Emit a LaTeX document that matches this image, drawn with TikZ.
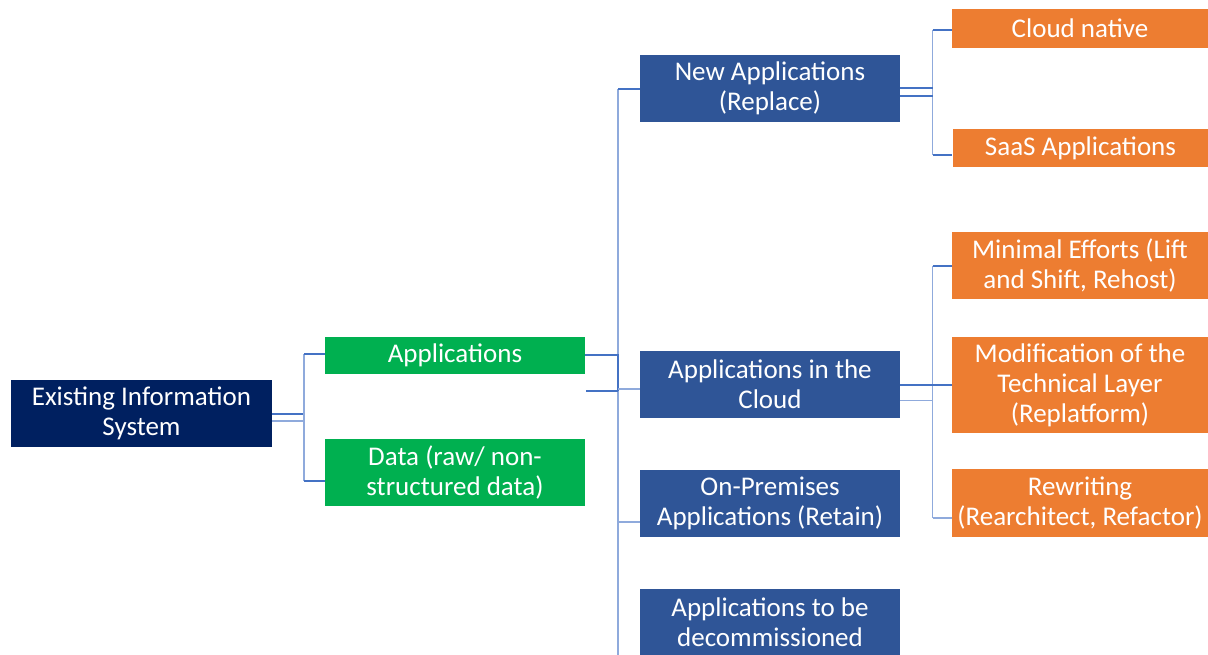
\documentclass[tikz,border=0pt]{standalone}
\usepackage{fontspec}
\setmainfont{Carlito}
\usetikzlibrary{calc}
\definecolor{navy}{HTML}{002060}
\definecolor{grn}{HTML}{00B050}
\definecolor{blu}{HTML}{2F5597}
\definecolor{orn}{HTML}{ED7D31}
\definecolor{lnk}{HTML}{4472C4}
\definecolor{lnkl}{HTML}{8FAADC}
\tikzset{
  box/.style={rectangle, inner sep=0pt, text=white, align=center,
    font=\fontsize{27}{30}\selectfont, anchor=center},
  exbox/.style={box, fill=navy, minimum width=261pt, minimum height=67pt},
  gbox/.style={box, fill=grn, minimum width=260pt},
  bbox/.style={box, fill=blu, minimum width=260pt, minimum height=67pt},
  obox/.style={box, fill=orn, minimum width=256pt},
  conn/.style={draw=lnk, line width=1.2pt},
  connl/.style={draw=lnkl, line width=1.8pt},
}
\begin{document}
\begin{tikzpicture}[x=1pt,y=-1pt]
\useasboundingbox (0,0) rectangle (1208,654);
% nodes
\node[exbox] (ex) at (141.5,413.5) {Existing Information\\System};
\node[gbox, minimum height=37pt] (apps) at (455,355.5) {Applications};
\node[gbox, minimum height=67pt] (data) at (455,472.5) {Data (raw/ non-\\structured data)};
\node[bbox] (newapp) at (770,88.5) {New Applications\\(Replace)};
\node[bbox] (cloud) at (770,384.5) {Applications in the\\Cloud};
\node[bbox] (onprem) at (770,503) {On-Premises\\Applications (Retain)};
\node[bbox] (decom) at (770,622.5) {Applications to be\\decommissioned};
\node[obox, minimum height=39pt] (cn) at (1080,28.5) {Cloud native};
\node[obox, minimum height=38pt] (saas) at (1080.5,148) {SaaS Applications};
\node[obox, minimum height=67pt] (minimal) at (1080,265.5) {Minimal Efforts (Lift\\and Shift, Rehost)};
\node[obox, minimum height=96pt] (modif) at (1080,385) {Modification of the\\Technical Layer\\(Replatform)};
\node[obox, minimum height=68pt] (rewrite) at (1080,503) {Rewriting\\(Rearchitect, Refactor)};
% bus positions
\coordinate (b1) at (304,0);
\coordinate (b2) at (618,0);
\coordinate (b3) at (932.5,0);
% level 1
\coordinate (e1) at ($(ex.east)+(0,0.5)$);
\coordinate (e2) at ($(ex.east)+(0,7.5)$);
\coordinate (a1) at ($(apps.west)+(0,-1.5)$);
\coordinate (d1) at ($(data.west)+(0,8.5)$);
\draw[conn] (e1) -- (e1 -| b1);
\draw[connl] (e2) -- (e2 -| b1);
\draw[connl] (a1 -| b1) -- (d1 -| b1);
\draw[conn] (a1 -| b1) -- (a1);
\draw[conn] (d1 -| b1) -- (d1);
% level 2
\coordinate (a2) at ($(apps.east)+(0,-0.5)$);
\coordinate (s2) at ($(apps.east)+(1,35.5)$);
\coordinate (n1) at ($(newapp.west)+(0,0.5)$);
\coordinate (c1) at ($(cloud.west)+(0,4.5)$);
\coordinate (o1) at ($(onprem.west)+(0,19)$);
\coordinate (bot) at ($(decom.south -| b2)+(0,10)$);
\draw[connl] (n1 -| b2) -- (bot);
\draw[conn] (a2) -- (a2 -| b2) -- (s2 -| b2);
\draw[conn] (s2) -- (s2 -| b2);
\draw[conn] (n1 -| b2) -- (n1);
\draw[connl] (c1 -| b2) -- (c1);
\draw[connl] (o1 -| b2) -- (o1);
% level 3 (new applications)
\coordinate (na1) at ($(newapp.east)+(0,-0.5)$);
\coordinate (na2) at ($(newapp.east)+(0,7.5)$);
\coordinate (cn1) at ($(cn.west)+(0,1.5)$);
\coordinate (sa1) at ($(saas.west)+(0,7)$);
\draw[connl] (cn1 -| b3) -- (sa1 -| b3);
\draw[conn] (na1) -- (na1 -| b3);
\draw[conn] (na2) -- (na2 -| b3);
\draw[conn] (cn1 -| b3) -- (cn1);
\draw[conn] (sa1 -| b3) -- (sa1);
% level 3 (cloud)
\coordinate (cl1) at ($(cloud.east)+(0,0.5)$);
\coordinate (cl2) at ($(cloud.east)+(0,16)$);
\coordinate (mi1) at ($(minimal.west)+(0,0.5)$);
\coordinate (re1) at ($(rewrite.west)+(0,15)$);
\draw[connl] (mi1 -| b3) -- (re1 -| b3);
\draw[conn] (cl1) -- (modif.west);
\draw[connl] (cl2) -- (cl2 -| b3);
\draw[conn] (mi1 -| b3) -- (mi1);
\draw[connl] (re1 -| b3) -- (re1);
\end{tikzpicture}
\end{document}
